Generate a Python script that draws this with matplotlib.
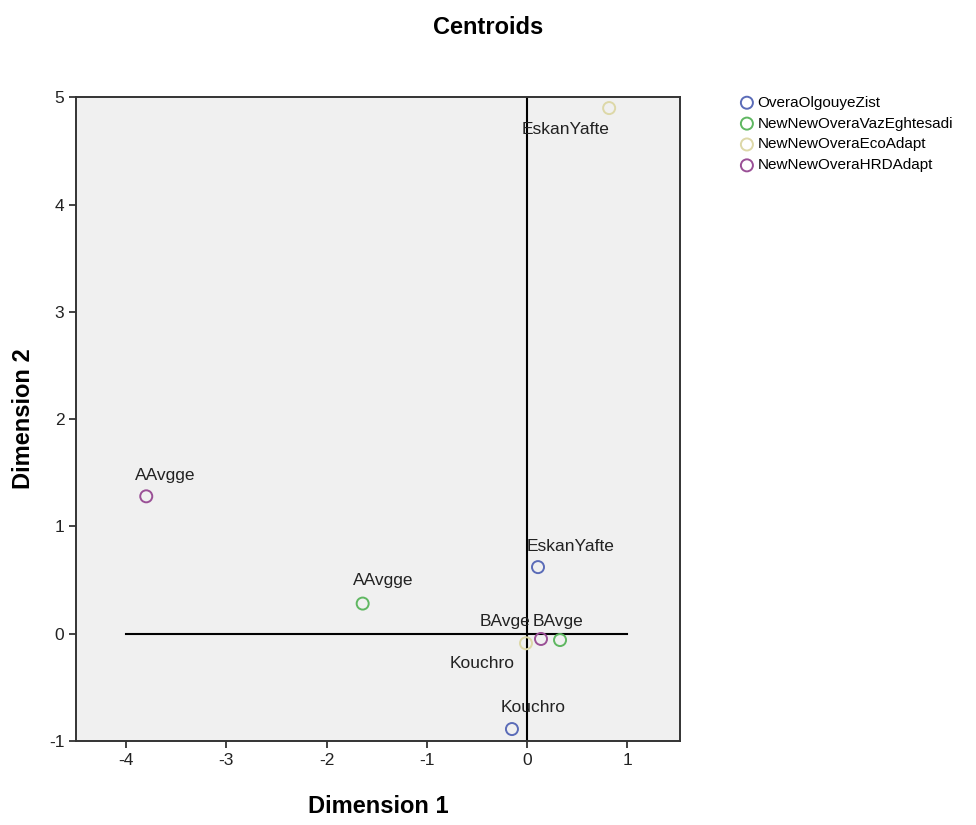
import matplotlib.pyplot as plt

plt.rcParams['font.family'] = ['Liberation Sans', 'DejaVu Sans']
plt.rcParams['axes.unicode_minus'] = False

series = ['OveraOlgouyeZist', 'NewNewOveraVazEghtesadi', 'NewNewOveraEcoAdapt', 'NewNewOveraHRDAdapt']
colors = ['#5b6cb8', '#5fb761', '#ddd8a8', '#9a5096']

# centroid coordinates per variable (dimension 1, dimension 2) and category labels
dim1 = [[0.11, -0.15], [-1.64, 0.33], [0.82, -0.01], [-3.80, 0.14]]
dim2 = [[0.62, -0.89], [0.28, -0.06], [4.90, -0.09], [1.28, -0.05]]
cats = [['EskanYafte', 'Kouchro'], ['AAvgge', 'BAvge'], ['EskanYafte', 'Kouchro'], ['AAvgge', 'BAvge']]
# label offsets in pixels
offs = [[(33, 21), (21, 22)], [(21, 23), (-55, 19)], [(-44, -21), (-44, -20)], [(19, 21), (17, 17)]]

fig = plt.figure(figsize=(9.76, 8.25), dpi=100)
ax = fig.add_axes([0.078, 0.102, 0.619, 0.780])
ax.set_facecolor('#f0f0f0')

ax.plot([-4, 1], [0, 0], color='black', lw=1.5, zorder=1)
ax.axvline(0, color='black', lw=1.5, zorder=1)

for i in range(len(series)):
    ax.scatter(dim1[i], dim2[i], s=75, facecolors='none', edgecolors=colors[i],
               linewidths=1.4, label=series[i], zorder=3)
    for x, y, c, o in zip(dim1[i], dim2[i], cats[i], offs[i]):
        ax.annotate(c, (x, y), xytext=o, textcoords='offset pixels',
                    ha='center', va='center', fontsize=12.5, color='#222222', zorder=4)

ax.set_xlim(-4.5, 1.53)
ax.set_ylim(-1, 5)
ax.set_xticks([-4, -3, -2, -1, 0, 1])
ax.set_yticks([-1, 0, 1, 2, 3, 4, 5])
ax.tick_params(direction='out', length=5, width=1.2, labelsize=12.5, colors='#222222')
for sp in ax.spines.values():
    sp.set_linewidth(1.4)
    sp.set_color('#333333')

ax.set_xlabel('Dimension 1', fontsize=17, fontweight='bold', labelpad=20)
ax.set_ylabel('Dimension 2', fontsize=17, fontweight='bold', labelpad=10)
fig.suptitle('Centroids', fontsize=17, fontweight='bold', x=0.5, y=0.98)

leg = ax.legend(loc='upper left', bbox_to_anchor=(1.085, 1.012), frameon=False,
                handletextpad=0.1, borderaxespad=0, labelspacing=0.45, handlelength=1.2,
                prop={'family': ['Liberation Sans Narrow', 'Liberation Sans', 'DejaVu Sans'], 'size': 11})

fig.savefig('out.png', dpi=100)
